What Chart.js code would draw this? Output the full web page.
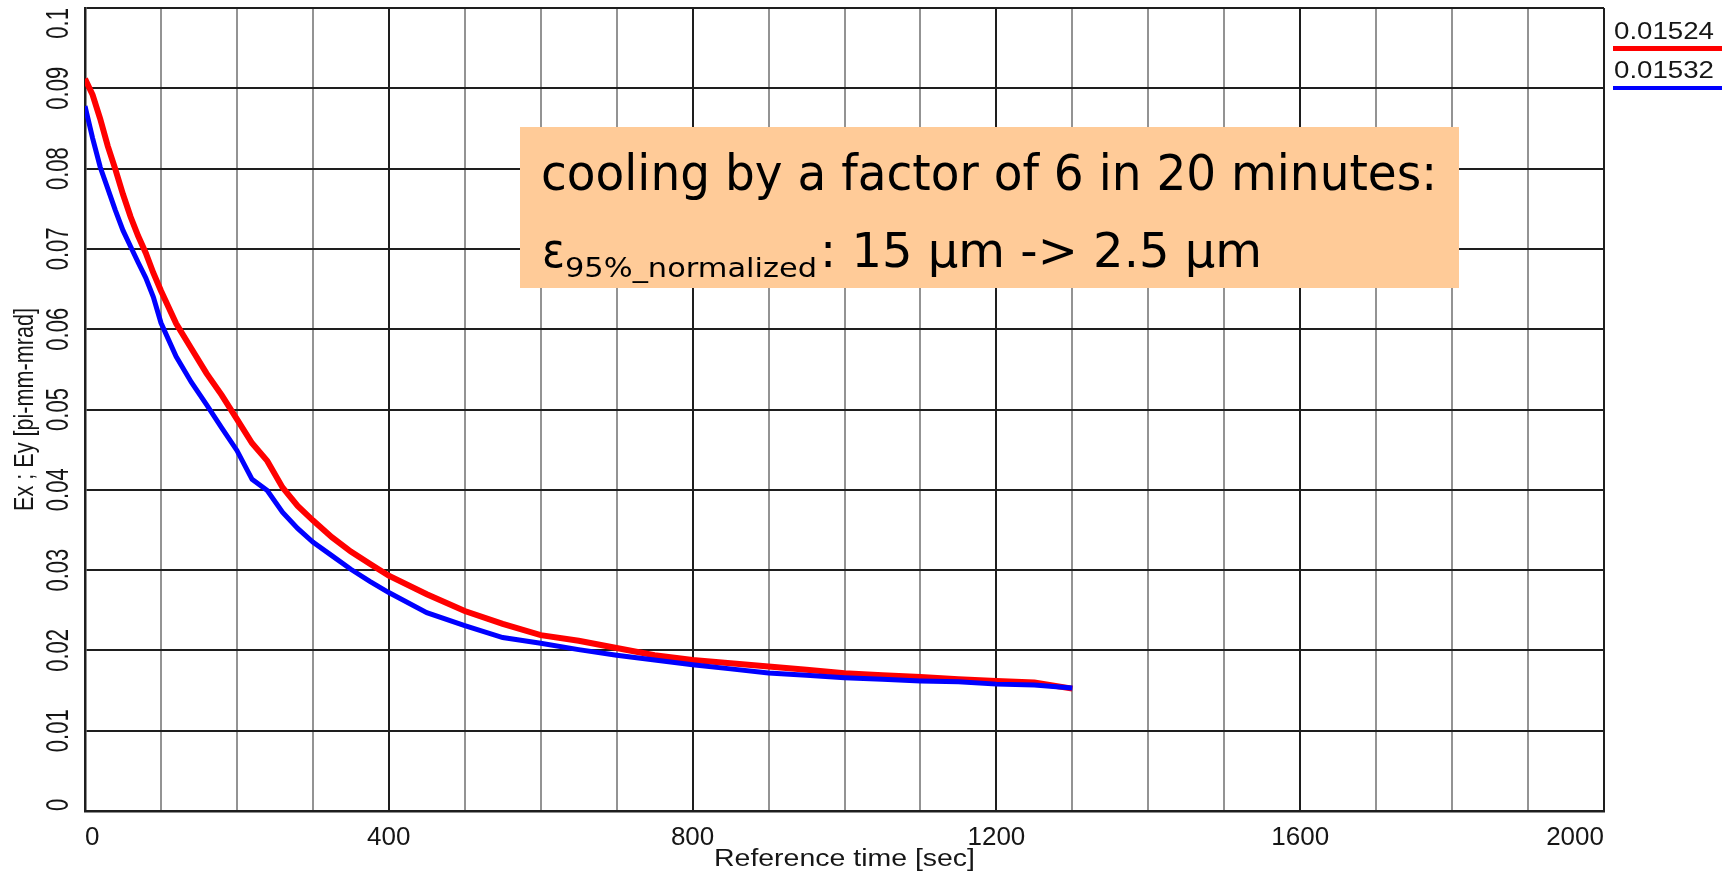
<!DOCTYPE html>
<html>
<head>
<meta charset="utf-8">
<title>Emittance cooling</title>
<script src="https://cdn.jsdelivr.net/npm/chart.js@4.4.1/dist/chart.umd.min.js"></script>
<style>
  html, body { margin: 0; padding: 0; background: #fff; }
  canvas { display: block; }
</style>
</head>
<body>
<canvas id="myChart" width="1733" height="871"></canvas>
<script>
// reference time [sec]
const times = [
  0, 10, 20, 30, 40, 50, 60, 70, 80, 90, 100, 120, 140, 160, 180, 200, 220, 240, 260, 280,
  300, 325, 350, 375, 400, 450, 500, 550, 600, 650, 700, 750, 800, 850, 900, 950, 1000,
  1050, 1100, 1150, 1200, 1250, 1300,
]
// Ex [pi-mm-mrad]
const exValues = [
  0.0912, 0.0892, 0.0862, 0.0828, 0.0799, 0.0768, 0.074, 0.0716, 0.0695, 0.067, 0.0648,
  0.0607, 0.0576, 0.0545, 0.0518, 0.0488, 0.0458, 0.0436, 0.0403, 0.038, 0.0362, 0.0341,
  0.0323, 0.0308, 0.0293, 0.027, 0.0249, 0.0233, 0.0219, 0.0212, 0.0203, 0.0194, 0.0188,
  0.0184, 0.018, 0.0176, 0.01715, 0.0169, 0.0167, 0.0164, 0.0162, 0.016, 0.01524,
]
// Ey [pi-mm-mrad]
const eyValues = [
  0.0878, 0.0838, 0.0802, 0.0775, 0.0748, 0.0723, 0.0703, 0.0683, 0.0664, 0.064, 0.0608,
  0.0566, 0.0534, 0.0506, 0.0477, 0.0449, 0.0413, 0.0399, 0.0372, 0.0352, 0.0335, 0.0318,
  0.0301, 0.0286, 0.0272, 0.0247, 0.0231, 0.0216, 0.0209, 0.0201, 0.0194, 0.0188, 0.0182,
  0.0177, 0.0172, 0.0169, 0.0166, 0.0164, 0.0162, 0.0161, 0.0158, 0.0157, 0.01532,
]
const xTickLabels = ['0', '400', '800', '1200', '1600', '2000']
const yTickLabels = ['0', '0.01', '0.02', '0.03', '0.04', '0.05', '0.06', '0.07', '0.08', '0.09', '0.1']

const INK = '#161616'
const AXIS_FONT = '25px "Liberation Sans", Arial, sans-serif'
const NOTE_FONT = '"DejaVu Sans", Verdana, sans-serif'

// text drawn along the y axis, reading bottom to top
function vText(ctx, text, x, cy, sLen, sThick) {
  ctx.save()
  ctx.translate(x, cy)
  ctx.rotate(-Math.PI / 2)
  ctx.scale(sLen, sThick)
  ctx.textAlign = 'center'
  ctx.textBaseline = 'alphabetic'
  ctx.fillText(text, 0, 0)
  ctx.restore()
}

// horizontal text squeezed or widened to a given width
function fitText(ctx, text, x, y, width, align = 'left') {
  const w = ctx.measureText(text).width
  const sx = width / w
  ctx.save()
  ctx.translate(x, y)
  ctx.scale(sx, 1)
  ctx.textAlign = align
  ctx.textBaseline = 'alphabetic'
  ctx.fillText(text, 0, 0)
  ctx.restore()
}

const labelsPlugin = {
  id: 'labels',
  afterDraw(chart) {
    const { ctx, chartArea: a, scales } = chart
    const { x, y } = scales
    ctx.save()
    ctx.fillStyle = INK

    // y tick labels, kept inside the plot height
    ctx.font = '29px "Liberation Sans", Arial, sans-serif'
    y.ticks.forEach((tick, i) => {
      const text = yTickLabels[i]
      if (!text) return
      const half = (ctx.measureText(text).width * 0.76) / 2
      let cy = y.getPixelForValue(tick.value)
      cy = Math.min(Math.max(cy, a.top + half), a.bottom - half)
      vText(ctx, text, 68, cy, 0.76, 1.05)
    })

    // x tick labels every 400 s
    ctx.font = AXIS_FONT
    xTickLabels.forEach((text) => {
      const w = ctx.measureText(text).width * 1.04
      let cx = x.getPixelForValue(Number(text))
      cx = Math.min(Math.max(cx, a.left + w / 2), a.right - w / 2)
      fitText(ctx, text, cx, 845, w, 'center')
    })

    // axis titles
    ctx.font = '24px "Liberation Sans", Arial, sans-serif'
    vText(ctx, 'Ex ; Ey [pi-mm-mrad]', 33, (a.top + a.bottom) / 2, 0.9, 1.15)
    ctx.font = '23px "Liberation Sans", Arial, sans-serif'
    fitText(ctx, 'Reference time [sec]', (a.left + a.right) / 2, 866, 261, 'center')

    // legend: last value of each series over its colour
    const legend = [
      { values: exValues, color: '#ff0000', textY: 39, lineY: 48.5, width: 5 },
      { values: eyValues, color: '#0000ff', textY: 78, lineY: 88, width: 4 },
    ]
    ctx.font = '23px "Liberation Sans", Arial, sans-serif'
    legend.forEach((item) => {
      const text = item.values[item.values.length - 1].toFixed(5)
      ctx.fillStyle = INK
      fitText(ctx, text, 1614, item.textY, 100)
      ctx.strokeStyle = item.color
      ctx.lineWidth = item.width
      ctx.beginPath()
      ctx.moveTo(1613, item.lineY)
      ctx.lineTo(1722, item.lineY)
      ctx.stroke()
    })

    // note box
    ctx.fillStyle = '#ffcb98'
    ctx.fillRect(520, 127, 939, 161)
    ctx.fillStyle = '#000'
    ctx.font = '50px ' + NOTE_FONT
    fitText(ctx, 'cooling by a factor of 6 in 20 minutes:', 541, 190, 896)
    ctx.font = '48px ' + NOTE_FONT
    fitText(ctx, 'ε', 542, 267, 23)
    ctx.font = '27px ' + NOTE_FONT
    fitText(ctx, '95%_normalized', 565, 277, 252)
    ctx.font = '48px ' + NOTE_FONT
    fitText(ctx, ': 15 μm -> 2.5 μm', 820, 267, 442)
    ctx.restore()
  },
}

function initChart({ idElement }) {
  const element = document.getElementById(idElement)
  if (!element) return
  const ctx = element.getContext('2d')
  const toPoints = (values) => times.map((t, i) => ({ x: t, y: values[i] }))
  return new Chart(ctx, {
    type: 'line',
    data: {
      // first dataset is painted last, so Ey sits over Ex
      datasets: [
        {
          label: 'Ey',
          data: toPoints(eyValues),
          borderColor: '#0000ff',
          borderWidth: 5,
          pointRadius: 0,
          tension: 0,
        },
        {
          label: 'Ex',
          data: toPoints(exValues),
          borderColor: '#ff0000',
          borderWidth: 6,
          pointRadius: 0,
          tension: 0,
        },
      ],
    },
    options: {
      responsive: false,
      animation: false,
      events: [],
      layout: { padding: { top: 8, right: 129, bottom: 0, left: 0 } },
      plugins: {
        legend: { display: false },
        tooltip: { enabled: false },
      },
      scales: {
        x: {
          type: 'linear',
          min: 0,
          max: 2000,
          ticks: { stepSize: 100, display: false },
          grid: {
            drawTicks: false,
            lineWidth: 2,
            color: (c) => (c.tick && c.tick.value % 400 === 0 ? '#1e1e1e' : '#939393'),
          },
          border: { color: '#1e1e1e', width: 2.5 },
          afterFit: (s) => {
            s.height = 60
          },
        },
        y: {
          min: 0,
          max: 0.1,
          ticks: { stepSize: 0.01, display: false },
          grid: { drawTicks: false, lineWidth: 2, color: '#1e1e1e' },
          border: { color: '#1e1e1e', width: 2.5 },
          afterFit: (s) => {
            s.width = 85
          },
        },
      },
    },
    plugins: [labelsPlugin],
  })
}

// main
;(() => {
  initChart({ idElement: 'myChart' })
})()
</script>
</body>
</html>
